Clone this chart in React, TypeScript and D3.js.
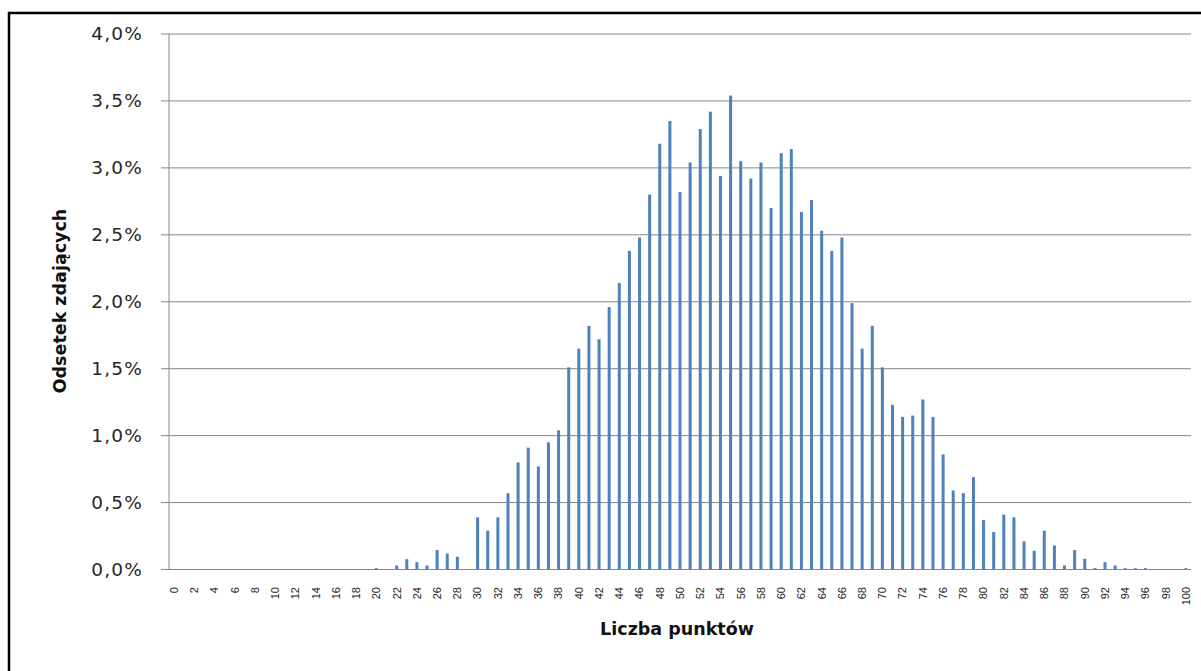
import React from 'react';
import * as d3 from 'd3';

// share of candidates (%) per score 0..100
const scores = d3.range(0, 101);
const shares = [
  0, 0, 0, 0, 0, 0, 0, 0, 0, 0,
  0, 0, 0, 0, 0, 0, 0, 0, 0, 0,
  0.01, 0, 0.03, 0.077, 0.055, 0.03, 0.145, 0.12, 0.095, 0,
  0.39, 0.29, 0.39, 0.57, 0.8, 0.91, 0.77, 0.95, 1.04, 1.51,
  1.65, 1.82, 1.72, 1.96, 2.14, 2.38, 2.48, 2.8, 3.18, 3.35,
  2.82, 3.04, 3.29, 3.42, 2.94, 3.54, 3.05, 2.92, 3.04, 2.7,
  3.11, 3.14, 2.67, 2.76, 2.53, 2.38, 2.48, 1.99, 1.65, 1.82,
  1.51, 1.23, 1.14, 1.15, 1.27, 1.14, 0.86, 0.59, 0.57, 0.69,
  0.37, 0.28, 0.41, 0.39, 0.21, 0.14, 0.29, 0.18, 0.03, 0.145,
  0.08, 0.01, 0.055, 0.03, 0.01, 0.01, 0.01, 0, 0, 0,
  0.01,
];
const yTicks = [0, 0.5, 1, 1.5, 2, 2.5, 3, 3.5, 4];

const W = 1201, H = 671;
const plot = { left: 169, right: 1191, top: 34, bottom: 569.5 };

export default function App() {
  const x = d3.scaleBand<number>()
    .domain(scores)
    .range([plot.left, plot.right]);
  const y = d3.scaleLinear().domain([0, 4]).range([plot.bottom, plot.top]);
  const barW = 3;
  const fmt = (v: number) => v.toFixed(1).replace('.', ',') + '%';
  const grid = '#868686';

  return (
    <svg width={W} height={H} style={{ position: 'absolute', left: 0, top: 0, background: '#fff' }}>
      <rect x={9} y={13} width={W} height={H} fill="#fff" stroke="#000" strokeWidth={2.5} />

      {/* gridlines + y ticks */}
      {yTicks.map((t) => (
        <g key={t}>
          <line x1={plot.left - 8} x2={plot.right} y1={y(t)} y2={y(t)} stroke={grid} strokeWidth={1} />
          <text x={143} y={y(t)} dy="0.35em" textAnchor="end"
            style={{ fontFamily: 'DejaVu Sans', fontSize: 18.5, letterSpacing: 1.2, fill: '#262626' }}>
            {fmt(t)}
          </text>
        </g>
      ))}
      <line x1={plot.left} x2={plot.left} y1={plot.top} y2={plot.bottom} stroke={grid} />

      {/* bars */}
      {scores.map((s, i) => shares[i] > 0 && (
        <rect key={s}
          x={x(s)! + x.bandwidth() / 2 - barW / 2}
          y={y(shares[i])}
          width={barW}
          height={y(0) - y(shares[i])}
          fill="#4f81bd" />
      ))}

      {/* x labels */}
      {scores.filter((s) => s % 2 === 0).map((s) => {
        const cx = x(s)! + x.bandwidth() / 2;
        return (
          <text key={s} transform={`translate(${cx},587) rotate(-90)`} dy="0.35em" textAnchor="end"
            style={{ fontFamily: 'Liberation Sans', fontSize: 11, fill: '#262626' }}>
            {s}
          </text>
        );
      })}

      <text x={677} y={635} textAnchor="middle"
        style={{ fontFamily: 'DejaVu Sans', fontWeight: 'bold', fontSize: 17.5, fill: '#111' }}>
        Liczba punktów
      </text>
      <text transform="translate(66,301) rotate(-90)" textAnchor="middle"
        style={{ fontFamily: 'DejaVu Sans', fontWeight: 'bold', fontSize: 17.5, fill: '#111' }}>
        Odsetek zdających
      </text>
    </svg>
  );
}
